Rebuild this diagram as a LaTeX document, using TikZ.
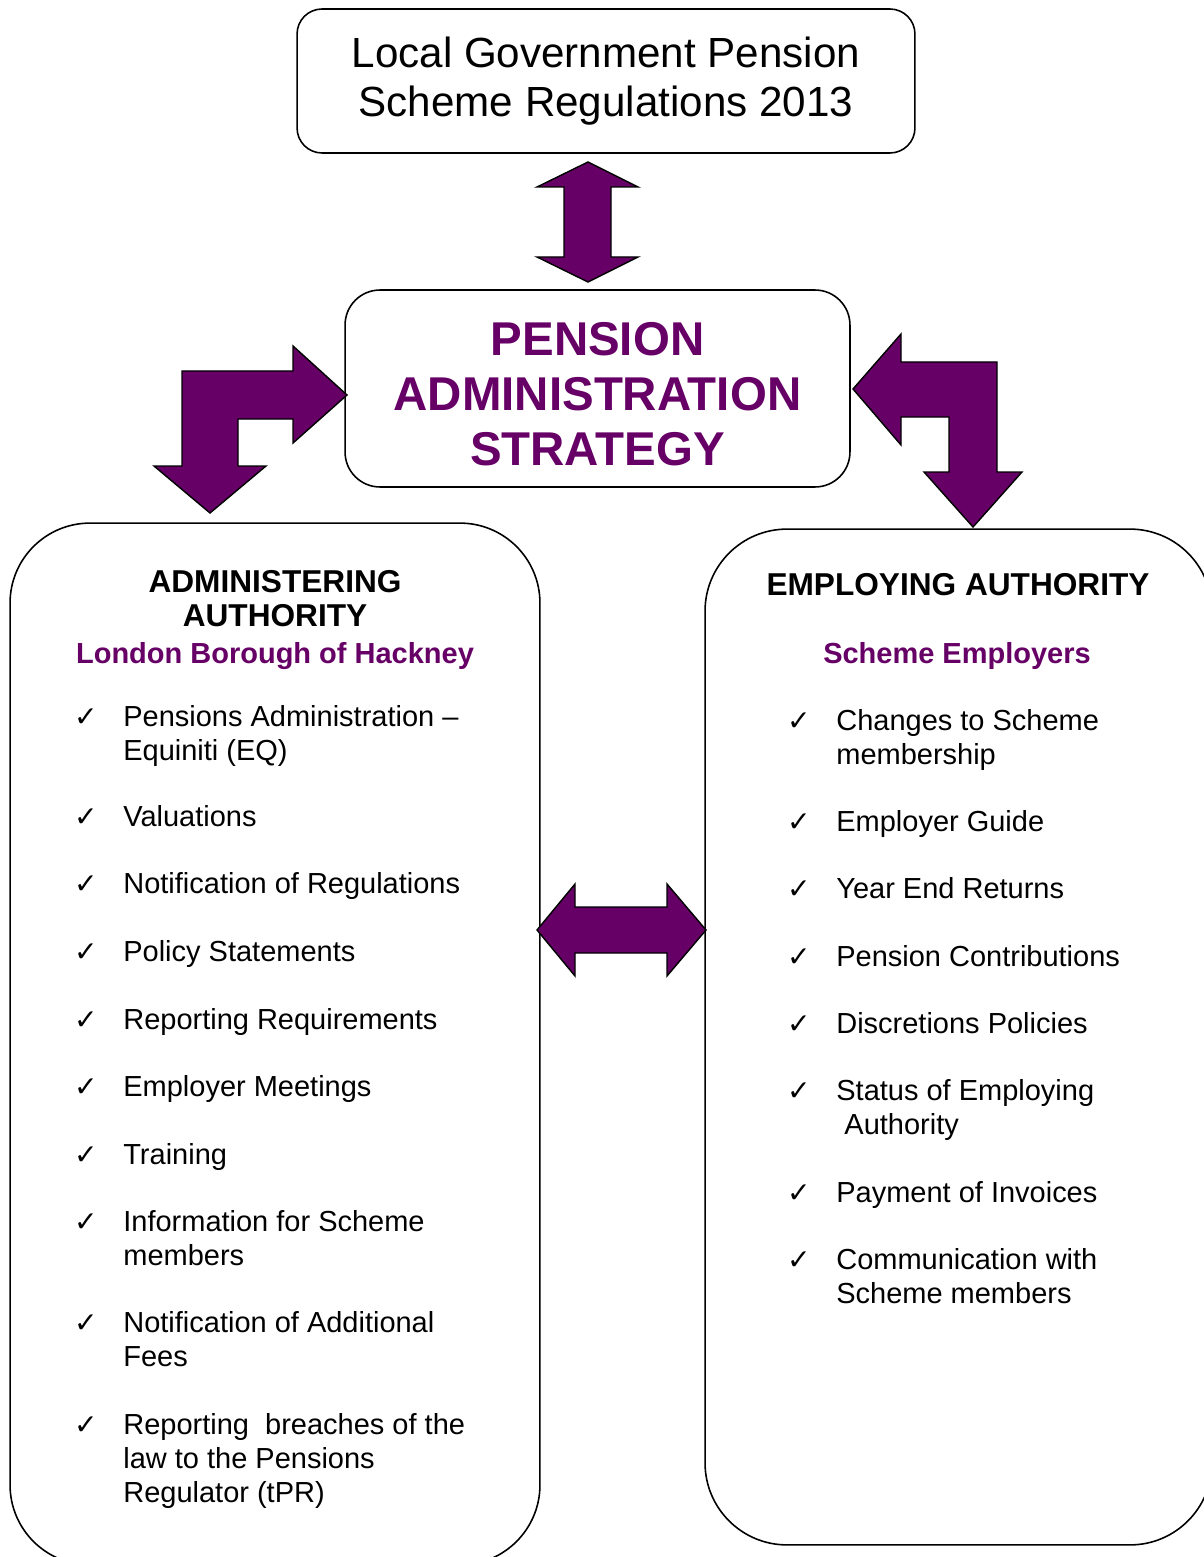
\documentclass[tikz,border=0pt]{standalone}
\usepackage{fontspec}
\setmainfont{Liberation Sans}
\newfontfamily\tickfont{DejaVu Sans}
\usetikzlibrary{positioning}
\definecolor{plum}{RGB}{102,0,102}

\begin{document}
\begin{tikzpicture}[x=0.02cm,y=-0.02cm]
            \tikzset{panel/.style={draw,line width=0.9pt,rounded corners=#1,inner sep=0pt,align=center}}
            \tikzset{item/.style={anchor=base west,align=left,inner sep=0pt,font=\fontsize{16.5}{19.3}\selectfont}}
            \tikzset{tick/.style={anchor=base,inner sep=0pt,font=\tickfont\fontsize{16}{18}\selectfont}}
            \tikzset{head/.style={anchor=base,align=center,inner sep=0pt,font=\fontsize{18}{19.3}\selectfont\bfseries}}
            \tikzset{subhead/.style={anchor=base,inner sep=0pt,text=plum,font=\fontsize{16.5}{19.3}\selectfont\bfseries}}
            \tikzset{blockarrow/.style={fill=plum,draw=black,line width=0.8pt,line join=miter}}

            \useasboundingbox (0,0) rectangle (1203,1557);

            % boxes
            \node[panel=0.5cm,minimum width=12.36cm,minimum height=2.88cm,
                  font=\fontsize{24}{28.3}\selectfont] (lgps) at (606,81)
                  {Local Government Pension\\Scheme Regulations 2013};
            \node[panel=0.7cm,minimum width=10.1cm,minimum height=3.94cm] (pas) at (597.5,388.5) {};
            \node[text=plum,align=center,inner sep=0pt,anchor=base,
                  font=\fontsize{27}{31.2}\selectfont\bfseries] (pastext) at (597.5,465)
                  {PENSION\\ADMINISTRATION\\STRATEGY};
            \node[panel=1.6cm,minimum width=10.6cm,minimum height=20.84cm] (admin) at (275,1044) {};
            \node[panel=1.64cm,minimum width=10.14cm,minimum height=20.32cm] (employ) at (958.5,1037) {};

            % block arrows
            \draw[blockarrow] (588,162) -- (638,187) -- (611,187) -- (611,257) -- (638,257) -- (588,282)
                -- (537,257) -- (564,257) -- (564,187) -- (537,187) -- cycle;
            \draw[blockarrow] (347,395) -- (293,346) -- (293,371) -- (182,371) -- (182,466) -- (154,466)
                -- (210,513) -- (266,466) -- (238,466) -- (238,419) -- (293,419) -- (293,443) -- cycle;
            \draw[blockarrow] (853,389) -- (901,334) -- (901,362) -- (997,362) -- (997,472) -- (1022,472)
                -- (973,527) -- (924,472) -- (949,472) -- (949,417) -- (901,417) -- (901,445) -- cycle;
            \draw[blockarrow] (537,930) -- (575,884) -- (575,907) -- (667,907) -- (667,884) -- (706,930)
                -- (667,976) -- (667,953) -- (575,953) -- (575,976) -- cycle;

            % administering authority
            \node[head] (adminhead) at (275,626) {ADMINISTERING\\AUTHORITY};
            \node[subhead] (hackney) at (275,663) {London Borough of Hackney};

            \node[tick] (lt1) at (86,726) {✓};
            \node[item] (li1) at (123,760) {Pensions Administration –\\Equiniti (EQ)};
            \node[tick] (lt2) at (86,826) {✓};
            \node[item] (li2) at (123,826) {Valuations};
            \node[tick] (lt3) at (86,893) {✓};
            \node[item] (li3) at (123,893) {Notification of Regulations};
            \node[tick] (lt4) at (86,961) {✓};
            \node[item] (li4) at (123,961) {Policy Statements};
            \node[tick] (lt5) at (86,1029) {✓};
            \node[item] (li5) at (123,1029) {Reporting Requirements};
            \node[tick] (lt6) at (86,1096) {✓};
            \node[item] (li6) at (123,1096) {Employer Meetings};
            \node[tick] (lt7) at (86,1164) {✓};
            \node[item] (li7) at (123,1164) {Training};
            \node[tick] (lt8) at (86,1231) {✓};
            \node[item] (li8) at (123,1265) {Information for Scheme\\members};
            \node[tick] (lt9) at (86,1332) {✓};
            \node[item] (li9) at (123,1366) {Notification of Additional\\Fees};
            \node[tick] (lt10) at (86,1434) {✓};
            \node[item] (li10) at (123,1502) {Reporting\hspace{0.28em} breaches of the\\law to the Pensions\\Regulator (tPR)};

            % employing authority
            \node[head] (employhead) at (958,595) {EMPLOYING AUTHORITY};
            \node[subhead] (employers) at (957,663) {Scheme Employers};

            \node[tick] (rt1) at (799,730) {✓};
            \node[item] (ri1) at (836,764) {Changes to Scheme\\membership};
            \node[tick] (rt2) at (799,831) {✓};
            \node[item] (ri2) at (836,831) {Employer Guide};
            \node[tick] (rt3) at (799,898) {✓};
            \node[item] (ri3) at (836,898) {Year End Returns};
            \node[tick] (rt4) at (799,966) {✓};
            \node[item] (ri4) at (836,966) {Pension Contributions};
            \node[tick] (rt5) at (799,1033) {✓};
            \node[item] (ri5) at (836,1033) {Discretions Policies};
            \node[tick] (rt6) at (799,1100) {✓};
            \node[item] (ri6) at (836,1134) {Status of Employing\\\hspace{0.28em}Authority};
            \node[tick] (rt7) at (799,1202) {✓};
            \node[item] (ri7) at (836,1202) {Payment of Invoices};
            \node[tick] (rt8) at (799,1269) {✓};
            \node[item] (ri8) at (836,1303) {Communication with\\Scheme members};

        \end{tikzpicture}
\end{document}
